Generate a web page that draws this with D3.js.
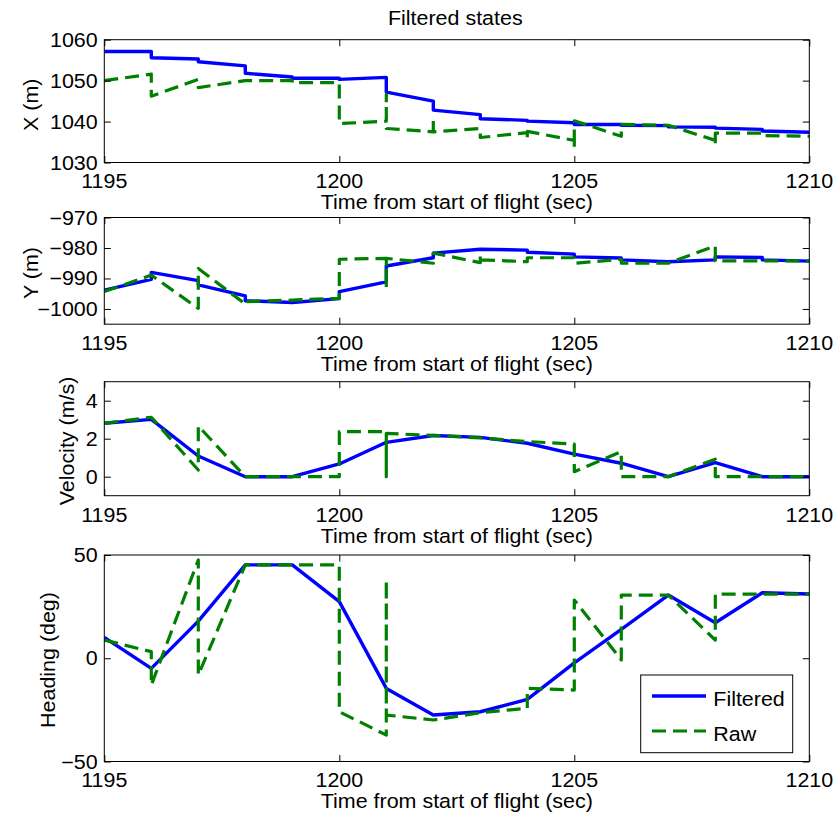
<!DOCTYPE html>
<html>
<head>
<meta charset="utf-8">
<script src="https://cdn.jsdelivr.net/npm/d3@7/dist/d3.min.js"></script>
<style>
  html, body { margin: 0; padding: 0; background: #fff; }
  svg { display: block; }
  text { font-family: "Liberation Sans", Arial, Helvetica, sans-serif; fill: #000; }
</style>
</head>
<body>
<svg id="chart" width="835" height="819"></svg>
<script>
// Time axis shared by every panel
const timeDomain = [1195, 1210];
const timeTicks = [1195, 1200, 1205, 1210];

// Each series is a list of [time, value]; a repeated time marks a jump at that instant.
const xFiltered = [
  [1195, 1057.1], [1196, 1057.1], [1196, 1055.6], [1197, 1055.3], [1197, 1054.6],
  [1198, 1053.6], [1198, 1051.8], [1199, 1050.9], [1199, 1050.6], [1200, 1050.6],
  [1200, 1050.3], [1201, 1050.8], [1201, 1047.2], [1202, 1045.0], [1202, 1042.8],
  [1203, 1041.7], [1203, 1040.7], [1204, 1040.3], [1204, 1040.1], [1205, 1039.7],
  [1205, 1039.3], [1206, 1039.3], [1206, 1039.1], [1207, 1039.0], [1207, 1038.7],
  [1208, 1038.6], [1208, 1038.4], [1209, 1038.1], [1209, 1037.7], [1210, 1037.4]
];
const xRaw = [
  [1195, 1050.0], [1196, 1051.6], [1196, 1046.2], [1197, 1050.3], [1197, 1048.3],
  [1198, 1050.0], [1199, 1050.0], [1199, 1049.5], [1200, 1049.5], [1200, 1039.5],
  [1201, 1040.1], [1201, 1046.7], [1201, 1038.3], [1202, 1037.5], [1202, 1040.7],
  [1202, 1037.5], [1203, 1038.3], [1203, 1036.1], [1204, 1037.3], [1204, 1035.8],
  [1204, 1037.6], [1205, 1035.4], [1205, 1033.4], [1205, 1040.2], [1206, 1036.4],
  [1206, 1039.3], [1207, 1039.1], [1208, 1035.4], [1208, 1034.0], [1208, 1037.2],
  [1209, 1037.2], [1209, 1036.6], [1210, 1036.4]
];

const yFiltered = [
  [1195, -993.8], [1196, -990.3], [1196, -988.0], [1197, -990.7], [1197, -992.1],
  [1198, -995.7], [1198, -997.3], [1199, -997.9], [1200, -996.6], [1200, -994.3],
  [1201, -991.1], [1201, -985.9], [1202, -983.2], [1202, -981.7], [1203, -980.4],
  [1204, -980.7], [1204, -981.4], [1205, -982.0], [1205, -982.9], [1206, -983.3],
  [1206, -983.9], [1207, -984.5], [1208, -983.9], [1208, -982.9], [1209, -983.1],
  [1209, -983.9], [1210, -984.3]
];
const yRaw = [
  [1195, -994.3], [1196, -988.9], [1197, -999.8], [1197, -986.7], [1198, -998.4],
  [1198, -997.6], [1199, -997.1], [1200, -996.5], [1200, -983.7], [1201, -983.4],
  [1201, -993.2], [1201, -983.4], [1202, -985.0], [1202, -981.7], [1203, -984.8],
  [1203, -982.3], [1203, -983.9], [1204, -984.5], [1204, -983.2], [1205, -983.2],
  [1205, -985.0], [1206, -983.7], [1206, -985.0], [1207, -985.0], [1208, -979.3],
  [1208, -984.2], [1209, -984.2], [1210, -984.2]
];

const velFiltered = [
  [1195, 2.81], [1196, 3.02], [1197, 1.09], [1198, 0], [1199, 0], [1200, 0.67],
  [1201, 1.81], [1202, 2.17], [1203, 2.07], [1204, 1.76], [1205, 1.19], [1206, 0.71],
  [1207, 0], [1208, 0.74], [1209, 0], [1210, 0]
];
const velRaw = [
  [1195, 2.81], [1196, 3.13], [1197, 0.35], [1197, 2.67], [1198, 0], [1199, 0],
  [1200, 0], [1200, 2.37], [1201, 2.37], [1201, 0], [1201, 2.28], [1202, 2.17],
  [1203, 2.04], [1204, 1.85], [1205, 1.72], [1205, 0.26], [1206, 1.32], [1206, 0],
  [1207, 0], [1208, 0.92], [1208, 0], [1209, 0], [1210, 0]
];

const headFiltered = [
  [1195, 10.1], [1196, -4.9], [1197, 18.0], [1198, 45.2], [1199, 45.2], [1200, 27.4],
  [1201, -14.6], [1202, -27.5], [1203, -25.9], [1204, -19.9], [1205, -2.2], [1206, 14.0],
  [1207, 30.6], [1208, 17.2], [1209, 31.7], [1210, 31.1]
];
const headRaw = [
  [1195, 8.8], [1196, 3.2], [1196, -13.0], [1197, 47.6], [1197, -8.1], [1198, 45.2],
  [1199, 45.2], [1200, 45.2], [1200, -25.9], [1201, -37.2], [1201, 37.9], [1201, -27.5],
  [1202, -29.9], [1203, -26.4], [1204, -24.2], [1204, -14.6], [1205, -15.4], [1205, 28.2],
  [1206, -0.8], [1206, 30.6], [1207, 30.6], [1208, 8.8], [1208, 31.1], [1209, 31.1],
  [1210, 31.1]
];

// Value ranges and tick values of the four panels
const xRange = [1030, 1060], xTicks = [1030, 1040, 1050, 1060];
const yRange = [-1005, -970], yTicks = [-1000, -990, -980, -970];
const velRange = [-1, 5], velTicks = [0, 2, 4];
const headRange = [-50, 50], headTicks = [-50, 0, 50];

const titleText = "Filtered states";
const timeLabel = "Time from start of flight (sec)";
const legendLabels = ["Filtered", "Raw"];

// ---------- layout ----------
const svg = d3.select("#chart");
const plotLeft = 104.3, plotRight = 809.3;
const fontSize = 19.5, stretch = 1.1, tickLen = 6.5;
const blue = "#0000ff", green = "#008000";
const dashPattern = "14,7";

const panels = [
  { top: 39.7, bottom: 162.5, range: xRange, ticks: xTicks, filtered: xFiltered, raw: xRaw,
    label: "X (m)", labelX: 37.5, labelY: 104.7 },
  { top: 217.5, bottom: 324.2, range: yRange, ticks: yTicks, filtered: yFiltered, raw: yRaw,
    label: "Y (m)", labelX: 38, labelY: 273 },
  { top: 381.7, bottom: 495.7, range: velRange, ticks: velTicks, filtered: velFiltered, raw: velRaw,
    label: "Velocity (m/s)", labelX: 74, labelY: 441 },
  { top: 555, bottom: 761.5, range: headRange, ticks: headTicks, filtered: headFiltered, raw: headRaw,
    label: "Heading (deg)", labelX: 55, labelY: 660 }
];

function label(parent, x, y, str, anchor, angle) {
  return parent.append("text")
    .attr("transform", `translate(${x},${y}) rotate(${angle || 0}) scale(${stretch},1)`)
    .attr("text-anchor", anchor)
    .style("font-size", fontSize + "px")
    .text(str);
}

const x = d3.scaleLinear().domain(timeDomain).range([plotLeft, plotRight]);
const fmt = d3.format("d");

// title
label(svg, 455.3, 25, titleText, "middle");

panels.forEach((p, i) => {
  const y = d3.scaleLinear().domain(p.range).range([p.bottom, p.top]);
  const g = svg.append("g").attr("class", "panel-" + i);

  // white plot area
  g.append("rect")
    .attr("x", plotLeft).attr("y", p.top)
    .attr("width", plotRight - plotLeft).attr("height", p.bottom - p.top)
    .attr("fill", "#fff");

  const clipId = "clip" + i;
  g.append("clipPath").attr("id", clipId)
    .append("rect")
    .attr("x", plotLeft).attr("y", p.top - 2)
    .attr("width", plotRight - plotLeft).attr("height", p.bottom - p.top + 4);

  const line = d3.line().x(d => x(d[0])).y(d => y(d[1]));

  g.append("path").datum(p.filtered)
    .attr("clip-path", `url(#${clipId})`)
    .attr("d", line)
    .attr("fill", "none").attr("stroke", blue)
    .attr("stroke-width", 3.4).attr("stroke-linejoin", "round");

  g.append("path").datum(p.raw)
    .attr("clip-path", `url(#${clipId})`)
    .attr("d", line)
    .attr("fill", "none").attr("stroke", green)
    .attr("stroke-width", 3.2).attr("stroke-dasharray", dashPattern)
    .attr("stroke-linejoin", "round");

  // inward ticks on all four sides
  const axBottom = d3.axisBottom(x).tickValues(timeTicks).tickSizeInner(-tickLen).tickSizeOuter(0).tickFormat("");
  const axTop = d3.axisTop(x).tickValues(timeTicks).tickSizeInner(-tickLen).tickSizeOuter(0).tickFormat("");
  const axLeft = d3.axisLeft(y).tickValues(p.ticks).tickSizeInner(-tickLen).tickSizeOuter(0).tickFormat("");
  const axRight = d3.axisRight(y).tickValues(p.ticks).tickSizeInner(-tickLen).tickSizeOuter(0).tickFormat("");

  g.append("g").attr("transform", `translate(0,${p.bottom})`).call(axBottom);
  g.append("g").attr("transform", `translate(0,${p.top})`).call(axTop);
  g.append("g").attr("transform", `translate(${plotLeft},0)`).call(axLeft);
  g.append("g").attr("transform", `translate(${plotRight},0)`).call(axRight);
  g.selectAll(".domain").remove();
  g.selectAll(".tick line").attr("stroke", "#000").attr("stroke-width", 1);

  // box
  g.append("rect")
    .attr("x", plotLeft).attr("y", p.top)
    .attr("width", plotRight - plotLeft).attr("height", p.bottom - p.top)
    .attr("fill", "none").attr("stroke", "#000").attr("stroke-width", 1);

  // tick labels
  timeTicks.forEach(t => label(g, x(t), p.bottom + 25.8, fmt(t), "middle"));
  p.ticks.forEach(v => label(g, plotLeft - 6.6, y(v) + 7, fmt(v), "end"));

  // axis titles
  label(g, (plotLeft + plotRight) / 2, p.bottom + 46.8, timeLabel, "middle");
  label(g, p.labelX, p.labelY, p.label, "middle", -90);
});

// legend in the heading panel
const leg = svg.append("g").attr("class", "legend");
leg.append("rect")
  .attr("x", 640.7).attr("y", 675).attr("width", 152).attr("height", 77.7)
  .attr("fill", "#fff").attr("stroke", "#000").attr("stroke-width", 1);
const legendStyles = [
  { color: blue, dash: null, width: 3.4, y: 696 },
  { color: green, dash: dashPattern, width: 3.2, y: 731 }
];
legendStyles.forEach((s, i) => {
  leg.append("line")
    .attr("x1", 652).attr("x2", 706).attr("y1", s.y).attr("y2", s.y)
    .attr("stroke", s.color).attr("stroke-width", s.width)
    .attr("stroke-dasharray", s.dash);
  label(leg, 713.3, s.y + 9.5, legendLabels[i], "start");
});
</script>
</body>
</html>
